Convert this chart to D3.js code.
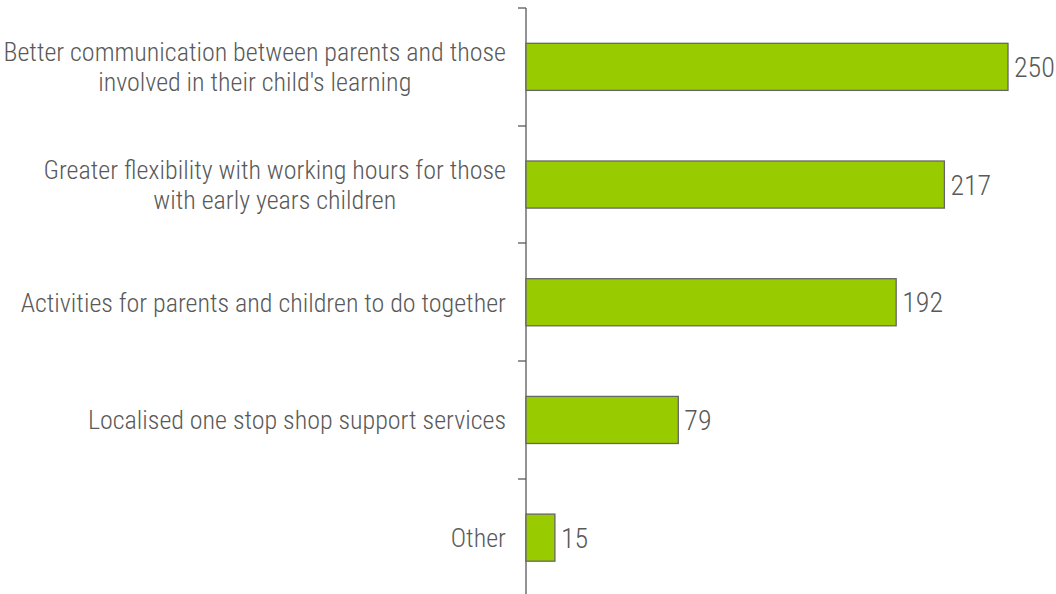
<!DOCTYPE html>
<html><head><meta charset="utf-8">
<script src="https://cdn.jsdelivr.net/npm/d3@7"></script>
<style>body{margin:0;background:#fff}svg{display:block}</style>
</head><body>
<svg id="c" width="1056" height="594"></svg>
<script>
const categories = [
  ["Better communication between parents and those", "involved in their child's learning"],
  ["Greater flexibility with working hours for those", "with early years children"],
  ["Activities for parents and children to do together"],
  ["Localised one stop shop support services"],
  ["Other"]
];
const values = [250, 217, 192, 79, 15];

const svg = d3.select("#c");
const x0 = 526;
const font = "'Roboto Condensed','Liberation Sans Narrow','Arial Narrow',sans-serif";
const textCol = "#595959";
const x = d3.scaleLinear().domain([0, 250]).range([x0, 1008]);
const y = d3.scaleBand().domain(d3.range(values.length)).range([8, 596.5])
  .paddingInner(0.6).paddingOuter(0.3);

// axis line + ticks
svg.append("line").attr("x1", x0).attr("x2", x0).attr("y1", 8).attr("y2", 594)
  .attr("stroke", "#595959").attr("stroke-width", 1.3);
const step = y.step();
const tickYs = d3.range(values.length + 1).map(i => 8 + i * step);
svg.selectAll(".tk").data(tickYs).join("line")
  .attr("x1", x0 - 8).attr("x2", x0).attr("y1", d => Math.round(d)).attr("y2", d => Math.round(d))
  .attr("stroke", "#595959").attr("stroke-width", 1.3);

// bars
svg.selectAll(".bar").data(values).join("rect")
  .attr("x", x(0)).attr("y", (d, i) => y(i))
  .attr("width", d => x(d) - x(0)).attr("height", y.bandwidth())
  .attr("fill", "#99cc00").attr("stroke", "#666666").attr("stroke-width", 1.3);

// value labels
svg.selectAll(".val").data(values).join("text")
  .attr("x", d => x(d) + 6).attr("y", (d, i) => y(i) + y.bandwidth() / 2)
  .attr("dy", "0.36em")
  .attr("font-family", font).attr("font-weight", 300).attr("font-size", 28).attr("fill", textCol)
  .text(d => d);

// category labels
const lh = 30;
categories.forEach((lines, i) => {
  const cy = y(i) + y.bandwidth() / 2;
  const t = svg.append("text").attr("text-anchor", "middle")
    .attr("font-family", font).attr("font-weight", 300).attr("font-size", 26).attr("fill", textCol);
  lines.forEach((l, j) => {
    t.append("tspan").attr("x", 0).attr("y", cy + (j - (lines.length - 1) / 2) * lh).attr("dy", "0.36em").text(l);
  });
  const bb = t.node().getBBox();
  t.attr("transform", `translate(${506 - bb.width / 2},0)`);
});
</script>
</body></html>
